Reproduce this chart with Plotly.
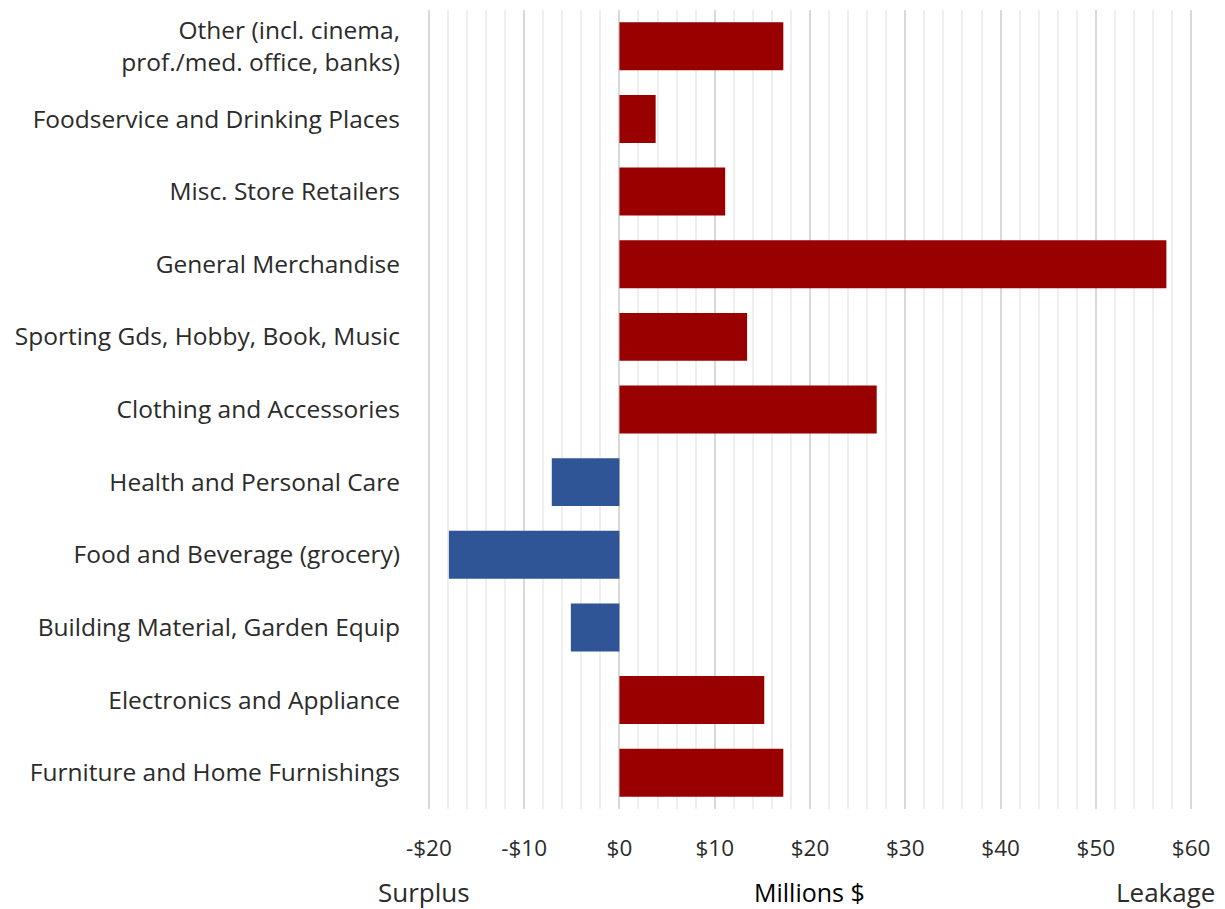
import plotly.graph_objects as go

categories = [
    "Furniture and Home Furnishings",
    "Electronics and Appliance",
    "Building Material, Garden Equip",
    "Food and Beverage (grocery)",
    "Health and Personal Care",
    "Clothing and Accessories",
    "Sporting Gds, Hobby, Book, Music",
    "General Merchandise",
    "Misc. Store Retailers",
    "Foodservice and Drinking Places",
    "Other (incl. cinema,<br>prof./med. office, banks)",
]
values = [17.2, 15.2, -5.1, -17.9, -7.1, 27.0, 13.4, 57.4, 11.1, 3.8, 17.2]

tick_vals = [-20, -10, 0, 10, 20, 30, 40, 50, 60]
tick_text = ["-$20", "-$10", "$0", "$10", "$20", "$30", "$40", "$50", "$60"]

RED = "#990000"
BLUE = "#2F5597"
colors = [RED if v >= 0 else BLUE for v in values]

FONT = "Open Sans, Noto Sans, sans-serif"
TXT = "#2b2b2b"

fig = go.Figure(go.Bar(
    x=values, y=categories, orientation="h",
    marker=dict(color=colors, line=dict(width=0)),
    width=0.66,
))

fig.update_layout(
    width=1225, height=909,
    margin=dict(l=426, r=31, t=10, b=100, autoexpand=False),
    paper_bgcolor="white", plot_bgcolor="white",
    font=dict(family=FONT, size=24, color=TXT),
    showlegend=False,
    bargap=0.34,
)
fig.update_xaxes(
    range=[-20.3, 60.3],
    tickvals=tick_vals, ticktext=tick_text,
    showgrid=True, gridcolor="#d9d9d9", gridwidth=2,
    minor=dict(dtick=2, showgrid=True, gridcolor="#efefef", gridwidth=1.5),
    zeroline=False, showline=False, ticks="",
    tickfont=dict(size=22.5, color=TXT),
    ticklabelstandoff=23,
    automargin=False,
)
fig.update_yaxes(
    showgrid=False, zeroline=False, showline=False, ticks="",
    tickfont=dict(size=24.5, color=TXT),
    ticklabelstandoff=25,
    range=[-0.5, 10.5],
    automargin=False,
)

fig.add_annotation(text="Surplus", xref="paper", yref="paper", x=-0.0655, y=-0.104,
                   xanchor="left", yanchor="middle", showarrow=False,
                   font=dict(size=26, color=TXT, family=FONT))
fig.add_annotation(text="Millions $", xref="paper", yref="paper", x=0.499, y=-0.104,
                   xanchor="center", yanchor="middle", showarrow=False,
                   font=dict(size=25, color="#000000", family=FONT))
fig.add_annotation(text="Leakage", xref="paper", yref="paper", x=1.03, y=-0.104,
                   xanchor="right", yanchor="middle", showarrow=False,
                   font=dict(size=26, color=TXT, family=FONT))

fig.write_html(
    "out.html",
    config={"displayModeBar": False},
    post_script="document.body.style.margin='0';document.body.style.overflow='hidden';",
)
